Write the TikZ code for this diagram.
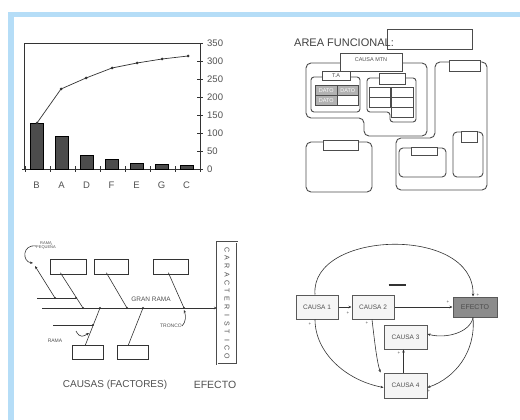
\documentclass[tikz,border=0pt]{standalone}
\usepackage{fontspec}
\setmainfont{Liberation Sans}
\usetikzlibrary{arrows.meta,calc}
\definecolor{frameblue}{HTML}{B5DDF7}
\definecolor{ink}{HTML}{333333}
\definecolor{txt}{HTML}{505050}
\newcommand{\fs}[1]{\fontsize{#1}{#1}\selectfont}
\begin{document}
\begin{tikzpicture}[x=1pt,y=-1pt,
  ln/.style={draw=ink, line width=0.6pt},
  bx/.style={draw=ink, line width=0.7pt, inner sep=0pt, anchor=north west, fill=white},
  ar/.style={draw=black!70, line width=0.9pt, rounded corners=5pt},
  arb/.style={draw=black!70, line width=0.8pt, fill=white},
  lbl/.style={text=txt, inner sep=0pt},
  cell/.style={draw=black!70, line width=0.7pt, fill=black!30, text=white, inner sep=0pt, font=\fs{5.5}},
  lp/.style={draw=black!65, line width=1pt, fill=black!4, inner sep=0pt, text=txt, font=\fs{6.5}},
  tip/.style={-{Stealth[length=3pt,width=2.5pt]}},
  dot/.style={fill=ink, circle, inner sep=0pt, minimum size=2.4pt},
  sg/.style={text=txt, inner sep=0pt, font=\fs{4.5}}
]
\useasboundingbox (0,0) rectangle (520,420);
% frame
\fill[frameblue] (8,12) rectangle (520,17);
\fill[frameblue] (8,12) rectangle (14,420);

% ================= Pareto =================
\draw[ln] (24,169) -- (24,43) -- (200,43) -- (200,169);
\draw[ln] (22,169) -- (202,169);
\foreach \v in {0,50,...,350}{
  \draw[ln] (197,{169-0.36*\v}) -- (203,{169-0.36*\v});
  \node[lbl, anchor=west, font=\fs{9.5}] (yl\v) at (207,{169-0.36*\v}) {\v};
}
\foreach \i in {0,...,7}{ \draw[ln] ({25+25*\i},166) -- ({25+25*\i},172); }
\foreach \i/\v/\l in {0/128/B,1/92/A,2/39/D,3/28/F,4/17/E,5/14/G,6/11/C}{
  \draw[draw=black, line width=0.7pt, fill=black!70] ({30+25*\i},169) rectangle ({43+25*\i},{169-0.36*\v});
  \node[lbl, font=\fs{9.5}] (cl\i) at ({36.5+25*\i},185) {\l};
}
\draw[ln, line width=0.7pt] (37,123) -- (61,89) -- (86,78) -- (112,68) -- (137,63) -- (162,59) -- (188,56);
\foreach \p in {(37,123),(61,89),(86,78),(112,68),(137,63),(162,59),(188,56)}{
  \node[dot, minimum size=3pt] at \p {};
}

% ================= Area funcional =================
\draw[draw=black!70, line width=1pt] (387,30) rectangle (472,50);
\node[lbl, anchor=west, font=\fs{11}, text=black!75] (areat) at (294,43) {AREA FUNCIONAL:};
% left L-shape
\draw[ar] (306,63) -- (427,63) -- (427,136) -- (364,136) -- (364,118) -- (306,118) -- cycle;
\node[bx, draw=black!70, line width=0.9pt, minimum width=62pt, minimum height=18pt] (cmtn) at (340,53) {};
\node[lbl, font=\fs{5.5}] (cmtnt) at (371,60) {CAUSA MTN};
% left table group
\draw[ar, rounded corners=3pt] (311,77) rectangle (360,112);
\node[bx, draw=black!70, minimum width=28pt, minimum height=9pt] (ta) at (322,71) {};
\node[lbl, font=\fs{5.5}] (tat) at (336,75.5) {T.A};
\node[cell, minimum width=22pt, minimum height=10pt, anchor=north west] (d1) at (315,85) {DATO};
\node[cell, minimum width=21pt, minimum height=10pt, anchor=north west] (d2) at (337,85) {DATO};
\node[cell, minimum width=22pt, minimum height=10pt, anchor=north west] (d3) at (315,95) {DATO};
\node[cell, fill=white, minimum width=21pt, minimum height=10pt, anchor=north west] (d4) at (337,95) {};
% right table group
\draw[ar, rounded corners=3pt] (367,78) -- (416,78) -- (416,122) -- (390,122) -- (390,112) -- (367,112) -- cycle;
\node[bx, draw=black!70, minimum width=26pt, minimum height=11pt] (rth) at (379,73) {};
\foreach \yy in {87,97}{ \draw[arb, line width=0.7pt] (369,\yy) rectangle (390,{\yy+10}); }
\foreach \yy in {87,97,107}{ \draw[arb, line width=0.7pt] (391,\yy) rectangle (413,{\yy+10}); }
% bottom-left box
\draw[ar] (306,142) rectangle (372,192);
\node[bx, draw=black!70, line width=0.9pt, minimum width=35pt, minimum height=10pt] (blh) at (323,140) {};
% right shape
\draw[ar] (435,62) -- (487,62) -- (487,190) -- (396,190) -- (396,138) -- (435,138) -- cycle;
\node[bx, draw=black!70, line width=0.9pt, minimum width=31pt, minimum height=11pt] (rsh) at (449,60) {};
\draw[ar, rounded corners=4pt] (399,148) rectangle (446,177);
\node[bx, draw=black!70, line width=0.9pt, minimum width=26pt, minimum height=8pt] (ib1) at (411,147) {};
\draw[ar, rounded corners=4pt] (453,132) rectangle (483,177);
\node[bx, draw=black!70, line width=0.9pt, minimum width=16pt, minimum height=11pt] (ib2) at (461,131) {};

% ================= Fishbone =================
\node[bx, minimum width=36pt, minimum height=15pt] (fb1) at (50,259) {};
\node[bx, minimum width=34pt, minimum height=15pt] (fb2) at (94,259) {};
\node[bx, minimum width=35pt, minimum height=15pt] (fb3) at (153,259) {};
\node[bx, minimum width=31pt, minimum height=14pt] (fb4) at (72,345) {};
\node[bx, minimum width=31pt, minimum height=14pt] (fb5) at (117,345) {};
\node[bx, draw=black!70, line width=0.5pt, double=white, double distance=1.2pt, minimum width=20pt, minimum height=122pt] (eff) at (217,242) {};
\foreach \ch [count=\i from 0] in {C,A,R,A,C,T,E,R,I,S,T,I,C,O}{
  \node[lbl, rotate=-90, font=\fs{7}] (ch\i) at (227,{250+8.2*\i}) {\ch};
}
\coordinate (sp0) at (42,308);
\coordinate (j1) at (83,308);
\coordinate (j2) at (127,308);
\coordinate (j3) at (184,308);
\coordinate (j4) at (100,308);
\coordinate (j5) at (143,308);
\draw[ln, tip] (sp0) -- (eff.west |- sp0);
\draw[ln] ([xshift=-8pt,yshift=2pt]fb1.south) -- (j1);
\draw[ln] ([xshift=-5pt,yshift=2pt]fb2.south) -- (j2);
\draw[ln] ([xshift=-2.5pt,yshift=2pt]fb3.south) -- (j3);
\draw[ln] ([xshift=-2.5pt]fb4.north) -- (j4);
\draw[ln] ([xshift=-4.5pt]fb5.north) -- (j5);
\coordinate (s1) at (76,298);
\coordinate (s1a) at (37,298);
\coordinate (s1b) at (55,298);
\coordinate (s1c) at (35,266);
\draw[ln] (s1a) -- (s1);
\draw[ln, tip] (s1b) -- (s1c);
\coordinate (s2) at (93,325);
\coordinate (s2a) at (53,325);
\draw[ln] (s2a) -- (s2);
\foreach \c in {j1,j2,j3,j4,j5,s1,s1b,s2}{ \node[dot] at (\c) {}; }
\node[lbl, font=\fs{4}, align=center] (rp) at (46,246) {RAMA\\PEQUEÑA};
\draw[ln, tip] (rp.west) .. controls (22,244) and (22,262) .. (33,263);
\node[lbl, font=\fs{6.5}] (gr) at (151,299) {GRAN RAMA};
\node[lbl, font=\fs{5}] (tr) at (171,326) {TRONCO};
\draw[ln, tip] (tr.east) .. controls (186,322) and (186,316) .. (184,310);
\node[lbl, font=\fs{5}] (rm) at (55,341) {RAMA};
\draw[ln, tip] (76,331) .. controls (80,339) and (84,336) .. (89,333);
\node[lbl, font=\fs{10}] (caus) at (115,385) {CAUSAS (FACTORES)};
\node[lbl, font=\fs{10.5}] (efe) at (215,385) {EFECTO};

% ================= Causal loop =================
\node[lp, minimum width=42pt, minimum height=24pt] (c1) at (317,307) {CAUSA 1};
\node[lp, minimum width=42pt, minimum height=24pt] (c2) at (373,307) {CAUSA 2};
\node[lp, fill=black!45, text=black!70, font=\fs{7}, minimum width=44pt, minimum height=20pt] (ef) at (475,307) {EFECTO};
\node[lp, minimum width=43pt, minimum height=24pt] (c3) at (405.5,337) {CAUSA 3};
\node[lp, minimum width=43pt, minimum height=25pt] (c4) at (405.5,385.5) {CAUSA 4};
\draw[ln, tip] (c1.east) -- (c2.west);
\draw[ln, tip] (c2.east) -- (ef.west);
\draw[ln, tip] ([xshift=-2pt]c1.north) .. controls (310,230) and (475,225) .. ([xshift=-2pt]ef.north);
\draw[ln, tip] ([xshift=-2pt]c1.south) .. controls (315,352) and (345,380) .. ([yshift=-2pt]c4.west);
\draw[ln, tip] ([xshift=-2pt]ef.south) .. controls (476,352) and (455,378) .. ([yshift=-2pt]c4.east);
\draw[ln, tip] ([xshift=-2pt]ef.south) .. controls (470,333) and (445,339) .. ([yshift=3pt]c3.east);
\draw[ln, tip] ([xshift=-1pt]c2.south) .. controls (375,345) and (377,362) .. ([xshift=-25pt]c4.north);
\draw[ln, tip] ([xshift=-2pt]c4.north) -- ([xshift=-2pt]c3.south);
\node[inner sep=0pt] (neg) at (397,285) {\color{ink}\rule{17pt}{1.6pt}};
\node[sg] (p1) at (348,313) {+};
\node[sg] (p2) at (310,324) {+};
\node[sg] (p3) at (367,323) {+};
\node[sg] (p4) at (399,353) {+};
\node[sg] (p5) at (448,302) {+};
\node[sg] (p6) at (478,295) {+};
\node[sg] (p7) at (429,391) {+};
\end{tikzpicture}
\end{document}
